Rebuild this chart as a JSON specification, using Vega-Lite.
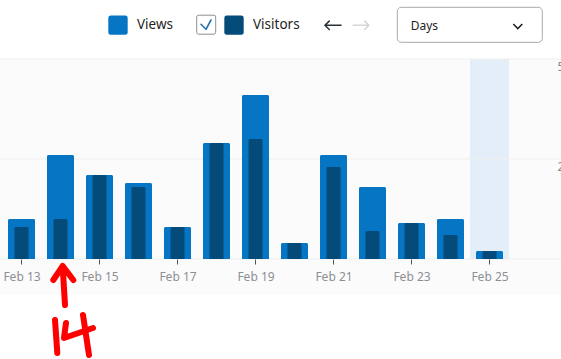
{
  "$schema": "https://vega.github.io/schema/vega-lite/v6.json",
  "width": 561,
  "height": 359,
  "autosize": {"type": "none"},
  "padding": 0,
  "background": "#ffffff",
  "config": {"view": {"stroke": null}, "font": "Noto Sans"},
  "datasets": {
    "stats": [
      {"date": "2024-02-13", "views": 10, "visitors": 8},
      {"date": "2024-02-14", "views": 26, "visitors": 10},
      {"date": "2024-02-15", "views": 21, "visitors": 21},
      {"date": "2024-02-16", "views": 19, "visitors": 18},
      {"date": "2024-02-17", "views": 8, "visitors": 8},
      {"date": "2024-02-18", "views": 29, "visitors": 29},
      {"date": "2024-02-19", "views": 41, "visitors": 30},
      {"date": "2024-02-20", "views": 4, "visitors": 4},
      {"date": "2024-02-21", "views": 26, "visitors": 23},
      {"date": "2024-02-22", "views": 18, "visitors": 7},
      {"date": "2024-02-23", "views": 9, "visitors": 9},
      {"date": "2024-02-24", "views": 10, "visitors": 6},
      {"date": "2024-02-25", "views": 2, "visitors": 2}
    ],
    "levels": [{"level": 0}, {"level": 25}, {"level": 50}],
    "one": [{}]
  },
  "layer": [
    {
      "data": {"name": "one"},
      "mark": {"type": "rect", "color": "#fbfbfb", "opacity": 1},
      "encoding": {
        "y": {"datum": 50, "type": "quantitative", "scale": {"domain": [-25, 64.75], "zero": false, "nice": false}},
        "y2": {"datum": -9}
      }
    },
    {
      "data": {"name": "one"},
      "mark": {"type": "rect", "color": "#e4eef8", "opacity": 1},
      "encoding": {
        "x": {"datum": {"year": 2024, "month": 2, "date": 24, "hours": 12, "utc": true}, "type": "temporal"},
        "x2": {"datum": {"year": 2024, "month": 2, "date": 25, "hours": 12, "utc": true}},
        "y": {"datum": 50, "type": "quantitative"},
        "y2": {"datum": 0}
      }
    },
    {
      "data": {"name": "levels"},
      "mark": {"type": "rule", "color": "#efefef", "strokeWidth": 1, "opacity": 1},
      "encoding": {
        "y": {"field": "level", "type": "quantitative"}
      }
    },
    {
      "data": {"name": "stats"},
      "mark": {"type": "bar", "width": 27, "cornerRadiusTopLeft": 1.5, "cornerRadiusTopRight": 1.5, "opacity": 1},
      "encoding": {
        "x": {
          "field": "date", "type": "temporal",
          "scale": {
            "type": "utc", "nice": false, "padding": 0,
            "domain": [
              {"year": 2024, "month": 2, "date": 12, "hours": 10, "minutes": 46, "seconds": 9, "milliseconds": 231, "utc": true},
              {"year": 2024, "month": 2, "date": 26, "hours": 20, "utc": true}
            ]
          },
          "axis": {
            "orient": "bottom", "offset": -100, "title": null,
            "tickCount": {"interval": "day", "step": 2},
            "format": "%b %d", "domain": false, "grid": false,
            "tickColor": "#50575e", "tickSize": 5, "labelPadding": 7,
            "labelFontSize": 12, "labelColor": "#8c8f94",
            "labelFlush": false, "labelOverlap": false, "zindex": 1
          }
        },
        "y": {
          "field": "views", "type": "quantitative",
          "axis": {
            "orient": "right", "title": null, "values": [0, 25, 50],
            "labelExpr": "datum.value == 0 ? '' : datum.label",
            "grid": false, "domain": false, "ticks": false, "tickSize": 0,
            "labelPadding": -4, "labelAlign": "left", "labelBaseline": "top",
            "labelOffset": 2, "labelFontSize": 12, "labelColor": "#888888", "zindex": 1
          }
        },
        "y2": {"datum": 0},
        "color": {
          "datum": "Views",
          "scale": {"domain": ["Views", "Visitors"], "range": ["#0675c4", "#044b7a"]},
          "legend": {
            "orient": "none", "legendX": 108, "legendY": 15, "direction": "horizontal",
            "title": null, "padding": 0,
            "symbolType": "M-0.75,-1 H0.75 Q1,-1 1,-0.75 V0.75 Q1,1 0.75,1 H-0.75 Q-1,1 -1,0.75 V-0.75 Q-1,-1 -0.75,-1 Z",
            "symbolSize": 376, "symbolStrokeWidth": 0, "symbolOpacity": 1,
            "labelFontSize": 13.5, "labelColor": "#1e1e1e", "labelOffset": 9,
            "columnPadding": 50
          }
        }
      }
    },
    {
      "data": {"name": "stats"},
      "mark": {"type": "bar", "width": 14, "cornerRadiusTopLeft": 1.5, "cornerRadiusTopRight": 1.5, "opacity": 1},
      "encoding": {
        "x": {"field": "date", "type": "temporal"},
        "y": {"field": "visitors", "type": "quantitative"},
        "y2": {"datum": 0},
        "color": {"datum": "Visitors"}
      }
    },
    {
      "data": {"name": "one"},
      "mark": {"type": "point", "shape": "M-0.8,-1 H0.8 Q1,-1 1,-0.8 V0.8 Q1,1 0.8,1 H-0.8 Q-1,1 -1,0.8 V-0.8 Q-1,-1 -0.8,-1 Z", "size": 361, "filled": true, "fill": "#ffffff", "stroke": "#8c8f94", "strokeWidth": 1, "opacity": 1},
      "encoding": {
        "x": {"datum": {"year": 2024, "month": 2, "date": 17, "hours": 17, "minutes": 39, "seconds": 42, "utc": true}, "type": "temporal"},
        "y": {"datum": 58.575, "type": "quantitative"}
      }
    },
    {
      "data": {"name": "one"},
      "mark": {"type": "point", "shape": "M-5.2,-0.4 L-0.2,4.6 L4.8,-4.7", "size": 4, "filled": false, "stroke": "#2271b1", "strokeWidth": 1.6, "strokeCap": "round", "strokeJoin": "round", "opacity": 1},
      "encoding": {
        "x": {"datum": {"year": 2024, "month": 2, "date": 17, "hours": 17, "minutes": 39, "seconds": 42, "utc": true}, "type": "temporal"},
        "y": {"datum": 58.575, "type": "quantitative"}
      }
    },
    {
      "data": {"name": "one"},
      "mark": {"type": "point", "shape": "M8.3,0 H-8.3 M-3.6,-4.7 L-8.3,0 L-3.6,4.7", "size": 4, "filled": false, "stroke": "#2c3338", "strokeWidth": 1.5, "opacity": 1},
      "encoding": {
        "x": {"datum": {"year": 2024, "month": 2, "date": 20, "hours": 23, "minutes": 52, "seconds": 37, "utc": true}, "type": "temporal"},
        "y": {"datum": 58.425, "type": "quantitative"}
      }
    },
    {
      "data": {"name": "one"},
      "mark": {"type": "point", "shape": "M-8.1,0 H8.1 M3.4,-4.7 L8.1,0 L3.4,4.7", "size": 4, "filled": false, "stroke": "#d5d5d5", "strokeWidth": 1.5, "opacity": 1},
      "encoding": {
        "x": {"datum": {"year": 2024, "month": 2, "date": 21, "hours": 16, "minutes": 48, "seconds": 0, "utc": true}, "type": "temporal"},
        "y": {"datum": 58.425, "type": "quantitative"}
      }
    },
    {
      "data": {"name": "one"},
      "mark": {"type": "rect", "fill": "#ffffff", "stroke": "#a7aaad", "strokeWidth": 1, "cornerRadius": 4, "opacity": 1},
      "encoding": {
        "x": {"datum": {"year": 2024, "month": 2, "date": 22, "hours": 15, "minutes": 15, "seconds": 42, "utc": true}, "type": "temporal"},
        "x2": {"datum": {"year": 2024, "month": 2, "date": 26, "hours": 8, "minutes": 29, "seconds": 31, "utc": true}},
        "y": {"datum": 62.925, "type": "quantitative"},
        "y2": {"datum": 54.175}
      }
    },
    {
      "data": {"name": "one"},
      "mark": {"type": "text", "text": "Days", "align": "left", "baseline": "middle", "fontSize": 12, "color": "#1e1e1e", "opacity": 1},
      "encoding": {
        "x": {"datum": {"year": 2024, "month": 2, "date": 22, "hours": 23, "minutes": 30, "seconds": 28, "utc": true}, "type": "temporal"},
        "y": {"datum": 58.2, "type": "quantitative"}
      }
    },
    {
      "data": {"name": "one"},
      "mark": {"type": "point", "shape": "M-4.5,-2.3 L0,2.3 L4.5,-2.3", "size": 4, "filled": false, "stroke": "#1e1e1e", "strokeWidth": 1.5, "opacity": 1},
      "encoding": {
        "x": {"datum": {"year": 2024, "month": 2, "date": 25, "hours": 17, "minutes": 24, "seconds": 55, "utc": true}, "type": "temporal"},
        "y": {"datum": 58.175, "type": "quantitative"}
      }
    },
    {
      "data": {"name": "one"},
      "mark": {"type": "point", "shape": "M-21.7,-30 L-12.3,-44 L-1.7,-30 M-12.3,-43 L-10,-5 M-20,10 L-17.7,43 M-9,13 L-11,28 L18,18 M8,5 L14,45", "size": 4, "filled": false, "stroke": "#ff0000", "strokeWidth": 6, "strokeCap": "round", "strokeJoin": "round", "opacity": 1},
      "encoding": {
        "x": {"datum": {"year": 2024, "month": 2, "date": 14, "hours": 8, "minutes": 55, "seconds": 23, "utc": true}, "type": "temporal"},
        "y": {"datum": -12.75, "type": "quantitative"}
      }
    }
  ]
}
